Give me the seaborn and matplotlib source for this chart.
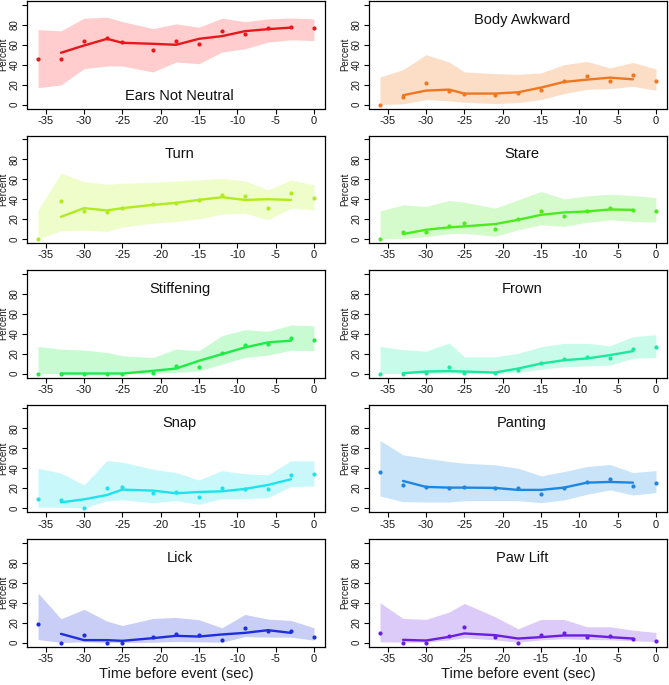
import numpy as np
import pandas as pd
import matplotlib
matplotlib.use("Agg")
import matplotlib.pyplot as plt
import seaborn as sns

# time points (sec before event) and the span of the smoothed line
times = [-36, -33, -30, -27, -25, -21, -18, -15, -12, -9, -6, -3, 0]
fit_times = times[1:-1]

# Ears Not Neutral
ears_pts = [45.3, 46, 64.3, 66.7, 63, 55, 64, 61, 73.7, 71.3, 76.7, 78, 76.7]
ears_fit = [52, 59.3, 66, 62, 61, 60, 66, 68.7, 73.7, 75.7, 77.3]
ears_hi = [75.3, 74, 86.7, 87.7, 83.3, 76.3, 81, 77.7, 86.7, 83.3, 86, 87, 86]
ears_lo = [17, 19.7, 36, 38.7, 38.7, 32.7, 42.7, 41, 52.7, 56, 62.7, 65, 64.3]

# Body Awkward
body_pts = [0, 7.3, 21.3, 13.3, 10.3, 10, 12, 14.3, 23.3, 28.3, 23.7, 29.7, 23.3]
body_fit = [9.3, 14, 15, 11, 11, 12.3, 17, 22.7, 25, 27, 25.3]
body_hi = [27.7, 35, 50, 42.7, 32.7, 31, 30.3, 31.7, 40, 43.3, 36.7, 42.3, 35.7]
body_lo = [0, 0.7, 5, 3.7, 2.3, 1, 2, 5, 11, 15.3, 16, 18.3, 14.3]

# Turn
turn_pts = [0, 38.3, 28.3, 26.7, 31, 35, 36, 39, 44, 43, 31.3, 46.3, 41]
turn_fit = [22.3, 31, 28.7, 31, 34.3, 36.3, 39.3, 42, 39.3, 40, 39.3]
turn_hi = [29.3, 66, 57.7, 55, 56, 57, 58.3, 59.3, 61, 58.3, 49.3, 59.3, 54.3]
turn_lo = [0, 8.3, 9, 7.7, 12, 16, 17.7, 20.3, 25, 26, 19.3, 31, 29.3]

# Stare
stare_pts = [0, 7.3, 7, 13, 15.7, 9.7, 19.7, 28.3, 23.3, 28.3, 31, 29.3, 28.3]
stare_fit = [5, 9.3, 11.7, 12.7, 15, 19.3, 24.3, 26.7, 27.7, 29.7, 29.3]
stare_hi = [28.3, 34.3, 32.7, 38.7, 37, 31, 39.3, 47.7, 40.3, 43.3, 45, 43.7, 41.7]
stare_lo = [0, 0.7, 2.3, 5.3, 5.7, 2.7, 9.3, 14.3, 12.7, 16.7, 19.3, 17.7, 17]

# Stiffening
stiff_pts = [0, 0, 0, 0, 0, 0.7, 7.7, 6.7, 20.2, 28.6, 29.6, 35.3, 34]
stiff_fit = [0, 0, 0, 0, 2.7, 5, 12.8, 19.5, 26.2, 31.3, 33]
stiff_hi = [27.2, 24.5, 23.5, 21.2, 17.8, 16.1, 24.5, 22.9, 38, 44, 42.4, 48.7, 48]
stiff_lo = [0, 0, 0, 0, 0, 0, 1, 2.7, 9.4, 16.1, 18.5, 23.5, 22.9]

# Frown
frown_pts = [0, 0, 0.7, 6.7, 0.3, 0.3, 4, 10.8, 14.5, 16.1, 15.8, 24.2, 26.9]
frown_fit = [0.3, 2, 2.4, 2, 1, 5, 10, 13.4, 15.1, 18.5, 22.5]
frown_hi = [27.2, 23.9, 22.5, 30.6, 16.8, 16.8, 20.2, 26.9, 30.3, 30.3, 27.9, 37, 39]
frown_lo = [0, 0, 0, 0.7, 0, 0, 1, 4.4, 6.7, 7.7, 8.4, 15.5, 16.1]

# Snap
snap_pts = [9.1, 7.7, 0, 20.2, 21.2, 15.5, 16.1, 10.8, 20.5, 19.2, 19.5, 33.6, 34.3]
snap_fit = [5.7, 8.7, 13.1, 18.5, 17.5, 14.8, 16.1, 16.8, 19.2, 23.2, 28.9]
snap_hi = [40, 35, 23.2, 47.7, 46, 39, 35.6, 28.2, 37.6, 34.3, 33.3, 47.4, 47.4]
snap_lo = [0.7, 0.7, 0, 7.4, 8.1, 5.4, 7.4, 3.7, 9.4, 9.4, 10.4, 21.5, 22.2]

# Panting
pant_pts = [36.6, 23.2, 21.5, 20.2, 21.2, 20.2, 20.5, 14.5, 20.5, 26.6, 29.6, 22.2, 25.5]
pant_fit = [27.2, 21.2, 20.5, 20.5, 20.2, 18.2, 18.2, 20.5, 25.5, 26.2, 25.5]
pant_hi = [67.9, 53.4, 50, 46.7, 45, 43.4, 40, 32.3, 36.6, 41.7, 43.7, 35.6, 37.6]
pant_lo = [12.1, 6.4, 6, 6, 7.4, 7.4, 7.4, 5.4, 8.1, 13.8, 18.2, 13.1, 15.5]

# Lick
lick_pts = [18.2, 0, 7.4, 0, 0, 5.4, 8.1, 7.4, 3, 14.5, 11.4, 11.1, 5.7]
lick_fit = [8.7, 2.4, 2.4, 1.7, 4.4, 6.7, 6, 8.1, 9.7, 12.4, 9.7]
lick_hi = [49.7, 23.9, 33.3, 21.5, 17.1, 24.2, 25.2, 22.9, 14.8, 28.2, 23.5, 22.2, 14.8]
lick_lo = [3, 0, 0.7, 0, 0, 0.3, 1, 0.7, 0.3, 6, 5.4, 5.4, 2.4]

# Paw Lift
paw_pts = [9.1, 0, 0, 6.7, 15.8, 5.4, 0, 7.4, 9.1, 5.4, 6.4, 3.7, 2]
paw_fit = [2.7, 2, 5.7, 9.1, 7.4, 4, 5.4, 7.1, 7.1, 5.4, 4]
paw_hi = [40, 24.2, 23.2, 30.6, 39.3, 25.9, 13.8, 23.2, 23.2, 15.8, 15.8, 12.4, 10.1]
paw_lo = [0.7, 0.3, 0.3, 2.7, 4.7, 2.7, 0.3, 2.7, 3.7, 3, 2.7, 1.7, 1]

titles = ["Ears Not Neutral", "Body Awkward", "Turn", "Stare", "Stiffening",
          "Frown", "Snap", "Panting", "Lick", "Paw Lift"]
line_colors = ["#E8171C", "#EE7722", "#B0EB1E", "#4BEB1E", "#1EEB45",
               "#1EE8A0", "#1EE3EB", "#1F86E0", "#1F2EDC", "#6A1FE0"]
fill_colors = ["#FFCDCD", "#FCDDC6", "#EFFDCA", "#D5FBCC", "#C9FBD3",
               "#C9FBEA", "#C9F8FB", "#C9E3F8", "#C9CEF6", "#DCCBF8"]

pts_all = [ears_pts, body_pts, turn_pts, stare_pts, stiff_pts, frown_pts,
           snap_pts, pant_pts, lick_pts, paw_pts]
fit_all = [ears_fit, body_fit, turn_fit, stare_fit, stiff_fit, frown_fit,
           snap_fit, pant_fit, lick_fit, paw_fit]
hi_all = [ears_hi, body_hi, turn_hi, stare_hi, stiff_hi, frown_hi,
          snap_hi, pant_hi, lick_hi, paw_hi]
lo_all = [ears_lo, body_lo, turn_lo, stare_lo, stiff_lo, frown_lo,
          snap_lo, pant_lo, lick_lo, paw_lo]

sns.set_theme(style="ticks")
plt.rcParams['font.family'] = ['Liberation Sans', 'DejaVu Sans']

W, H = 669, 685
fig = plt.figure(figsize=(W / 100, H / 100), dpi=100)

col_left = [27, 369]
box_w = 298
row_top = [1, 135.5, 270, 404.5, 539]
box_h = 107.5

for i in range(10):
    r, c = divmod(i, 2)
    ax = fig.add_axes([col_left[c] / W, 1 - (row_top[r] + box_h) / H,
                       box_w / W, box_h / H])
    pts = pd.DataFrame({"time": times, "pct": pts_all[i]})
    fit = pd.DataFrame({"time": fit_times, "pct": fit_all[i]})

    ax.fill_between(times, lo_all[i], hi_all[i], color=fill_colors[i], lw=0, zorder=1)
    sns.lineplot(data=fit, x="time", y="pct", color=line_colors[i], lw=1.7,
                 ax=ax, zorder=3)
    sns.scatterplot(data=pts, x="time", y="pct", color=line_colors[i], s=9,
                    linewidth=0, ax=ax, zorder=4)

    ax.set_xlim(-37.44, 1.44)
    ax.set_ylim(-4, 104)
    ax.set_xticks([-35, -30, -25, -20, -15, -10, -5, 0])
    ax.set_xticklabels(["-35", "-30", "-25", "-20", "-15", "-10", "-5", "0"])
    ax.set_yticks([0, 20, 40, 60, 80, 100])
    ax.set_yticklabels(["0", "20", "40", "60", "80", ""], rotation=90, va="center")
    ax.tick_params(axis="both", length=3.6, width=0.8,
                   color="black", labelcolor="#1a1a1a", direction="out")
    ax.tick_params(axis="x", pad=1.8, labelsize=8)
    ax.tick_params(axis="y", pad=1.8, labelsize=7)
    for s in ax.spines.values():
        s.set_color("black")
        s.set_linewidth(0.9)

    ax.set_ylabel("Percent", fontsize=7, color="#1a1a1a")
    ax.yaxis.set_label_coords(-0.062, 0.5)
    if r == 4:
        ax.set_xlabel("Time before event (sec)", fontsize=10.5, labelpad=2,
                      color="#1a1a1a")
    else:
        ax.set_xlabel("")

    ty = 9 if i == 0 else 85
    ax.text(-17.5, ty, titles[i], ha="center", va="center", fontsize=10.5,
            color="#111111")

fig.savefig("out.png", dpi=100)
